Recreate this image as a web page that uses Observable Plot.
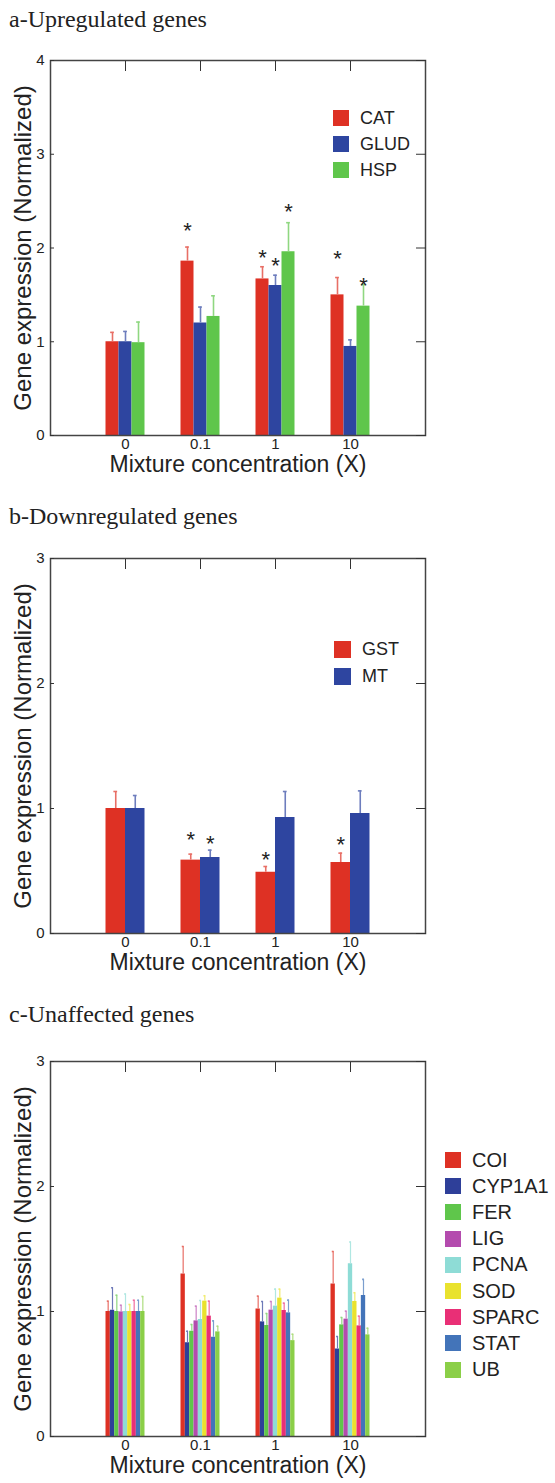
<!DOCTYPE html>
<html>
<head>
<meta charset="utf-8">
<script src="https://cdn.jsdelivr.net/npm/d3@7"></script>
<script src="https://cdn.jsdelivr.net/npm/@observablehq/plot@0.6"></script>
<style>
  html, body { margin: 0; padding: 0; background: #fff; }
  #page { position: relative; width: 555px; height: 1483px; overflow: hidden; font-family: "Liberation Sans", Arial, sans-serif; }
  .title { position: absolute; left: 9px; font-family: "Liberation Serif", "Times New Roman", serif; font-size: 24px; line-height: 1; color: #222; white-space: nowrap; }
  .panel { position: absolute; left: 0; }
  .legend { position: absolute; }
  .legend .row { position: absolute; left: 0; display: flex; align-items: center; white-space: nowrap; color: #222; }
  .legend .sw { display: inline-block; }
</style>
</head>
<body>
<div id="page"></div>
<script>
// ---------------- DATA ----------------
const concentrations = ["0", "0.1", "1", "10"];

// Panel a - upregulated genes
const genesA = ["CAT", "GLUD", "HSP"];
const colorsA = ["#de3124", "#2e45a0", "#5fc64b"];
const meansA = [
  [1.00, 1.86, 1.67, 1.50],
  [1.00, 1.20, 1.60, 0.95],
  [0.99, 1.27, 1.96, 1.38]
];
const errsA = [
  [0.10, 0.15, 0.13, 0.185],
  [0.11, 0.17, 0.11, 0.07],
  [0.22, 0.22, 0.31, 0.23]
];
const starsA = [
  [null, 2.25, 1.955, 1.95],
  [null, null, 1.87, null],
  [null, null, 2.45, 1.66]
];

// Panel b - downregulated genes
const genesB = ["GST", "MT"];
const colorsB = ["#de3124", "#2e45a0"];
const meansB = [
  [1.00, 0.587, 0.49, 0.568],
  [1.00, 0.608, 0.928, 0.96]
];
const errsB = [
  [0.136, 0.048, 0.046, 0.075],
  [0.104, 0.059, 0.208, 0.181]
];
const starsB = [
  [null, 0.80, 0.635, 0.76],
  [null, 0.768, null, null]
];

// Panel c - unaffected genes
const genesC = ["COI", "CYP1A1", "FER", "LIG", "PCNA", "SOD", "SPARC", "STAT", "UB"];
const colorsC = ["#de3124", "#2e3f99", "#5fc64b", "#b44bae", "#8edcd6", "#e9e22e", "#e92f76", "#4374b9", "#8bcf48"];
const meansC = [
  [1.00, 1.30, 1.02, 1.22],
  [1.01, 0.75, 0.917, 0.70],
  [1.00, 0.842, 0.888, 0.893],
  [0.997, 0.925, 1.011, 0.939],
  [1.00, 0.936, 1.043, 1.382],
  [1.00, 1.083, 1.107, 1.08],
  [1.00, 0.963, 1.008, 0.885],
  [1.00, 0.794, 0.989, 1.128],
  [1.00, 0.837, 0.767, 0.813]
];
const errsC = [
  [0.083, 0.22, 0.103, 0.26],
  [0.18, 0.092, 0.163, 0.10],
  [0.13, 0.054, 0.096, 0.059],
  [0.053, 0.118, 0.069, 0.064],
  [0.14, 0.152, 0.136, 0.174],
  [0.056, 0.043, 0.072, 0.07],
  [0.09, 0.12, 0.059, 0.078],
  [0.09, 0.131, 0.102, 0.129],
  [0.12, 0.045, 0.051, 0.053]
];

const yTitle = "Gene expression (Normalized)";
const xTitle = "Mixture concentration (X)";

// ---------------- DRAWING ----------------
const page = document.getElementById("page");

function lighten(c, t) { return d3.interpolateRgb(c, "#ffffff")(t); }

function makePanel({top, height, yMax, genes, colors, means, errs, stars}) {
  const n = genes.length;
  const groupW = 0.52;
  const w = groupW / n;
  const rows = [];
  genes.forEach((g, gi) => {
    concentrations.forEach((c, ci) => {
      const x1 = ci - groupW / 2 + gi * w;
      rows.push({
        gene: g, gi, ci, x1, x2: x1 + w, xc: x1 + w / 2,
        value: means[gi][ci], err: errs[gi][ci],
        star: stars ? stars[gi][ci] : null,
        color: colors[gi], ecolor: lighten(colors[gi], 0.3)
      });
    });
  });
  const yTicks = d3.range(0, yMax + 1);
  const xTicks = d3.range(concentrations.length);
  const capHalf = n > 4 ? 0.012 : 0.025;
  const chart = Plot.plot({
    width: 555,
    height,
    marginLeft: 50,
    marginRight: 130,
    marginTop: 20,
    marginBottom: height - 20 - 375,
    x: {domain: [-1, 4]},
    y: {domain: [0, yMax]},
    color: {type: "identity"},
    style: {fontFamily: "'Liberation Sans', Arial, sans-serif", color: "#222", background: "transparent"},
    marks: [
      Plot.rect(rows, {x1: "x1", x2: "x2", y1: 0, y2: "value", fill: "color"}),
      Plot.ruleX(rows, {x: "xc", y1: "value", y2: d => d.value + d.err, stroke: "ecolor", strokeWidth: n > 4 ? 1.2 : 1.6}),
      Plot.ruleY(rows, {y: d => d.value + d.err, x1: d => d.xc - capHalf, x2: d => d.xc + capHalf, stroke: "ecolor", strokeWidth: 1.6}),
      Plot.text(rows.filter(d => d.star != null), {x: "xc", y: "star", text: () => "*", fontSize: 22, fill: "#222", dy: 6}),
      Plot.frame({stroke: "#444", strokeWidth: 1.5}),
      Plot.axisY({ticks: yTicks, tickSize: 0, tickPadding: 6, fontSize: 15, tickFormat: d3.format("d"), label: null}),
      Plot.axisY({ticks: yTicks, tickSize: 4, dx: 4, tickFormat: () => "", label: null, stroke: "#333"}),
      Plot.axisY({anchor: "right", ticks: yTicks, tickSize: 10, dx: -10, tickFormat: () => "", label: null, stroke: "#333"}),
      Plot.axisX({anchor: "top", ticks: xTicks, tickSize: 10, dy: 10, tickFormat: () => "", label: null, stroke: "#333"}),
      Plot.axisX({anchor: "bottom", ticks: xTicks, tickSize: 0, tickPadding: 3, tickFormat: i => concentrations[i], fontSize: 15, label: null}),
      Plot.text([xTitle], {frameAnchor: "bottom", dy: 36, fontSize: 23, fill: "#222"}),
      Plot.text([yTitle], {frameAnchor: "left", textAnchor: "middle", dx: -27, rotate: -90, fontSize: 24, fill: "#222"})
    ]
  });
  chart.classList.add("panel");
  chart.style.top = top + "px";
  page.appendChild(chart);
}

function addTitle(text, top) {
  const d = document.createElement("div");
  d.className = "title";
  d.textContent = text;
  d.style.top = top + "px";
  page.appendChild(d);
}

function addLegend({left, top, step, sw, fontSize, gap, genes, colors}) {
  const lg = document.createElement("div");
  lg.className = "legend";
  lg.style.left = left + "px";
  lg.style.top = top + "px";
  genes.forEach((g, i) => {
    const r = document.createElement("div");
    r.className = "row";
    r.style.top = (i * step - sw / 2) + "px";
    r.style.height = sw + "px";
    r.style.fontSize = fontSize + "px";
    const s = document.createElement("span");
    s.className = "sw";
    s.style.width = sw + "px";
    s.style.height = sw + "px";
    s.style.background = colors[i];
    s.style.marginRight = gap + "px";
    r.appendChild(s);
    r.appendChild(document.createTextNode(g));
    lg.appendChild(r);
  });
  page.appendChild(lg);
}

addTitle("a-Upregulated genes", 7);
makePanel({top: 40, height: 445, yMax: 4, genes: genesA, colors: colorsA, means: meansA, errs: errsA, stars: starsA});
addLegend({left: 333, top: 118, step: 26, sw: 16, fontSize: 18, gap: 11, genes: genesA, colors: colorsA});

addTitle("b-Downregulated genes", 504);
makePanel({top: 538, height: 445, yMax: 3, genes: genesB, colors: colorsB, means: meansB, errs: errsB, stars: starsB});
addLegend({left: 334, top: 649, step: 27, sw: 17, fontSize: 18, gap: 11, genes: genesB, colors: colorsB});

addTitle("c-Unaffected genes", 1002);
makePanel({top: 1041, height: 442, yMax: 3, genes: genesC, colors: colorsC, means: meansC, errs: errsC, stars: null});
addLegend({left: 445, top: 1160, step: 26.2, sw: 16, fontSize: 20, gap: 11, genes: genesC, colors: colorsC});
</script>
</body>
</html>
